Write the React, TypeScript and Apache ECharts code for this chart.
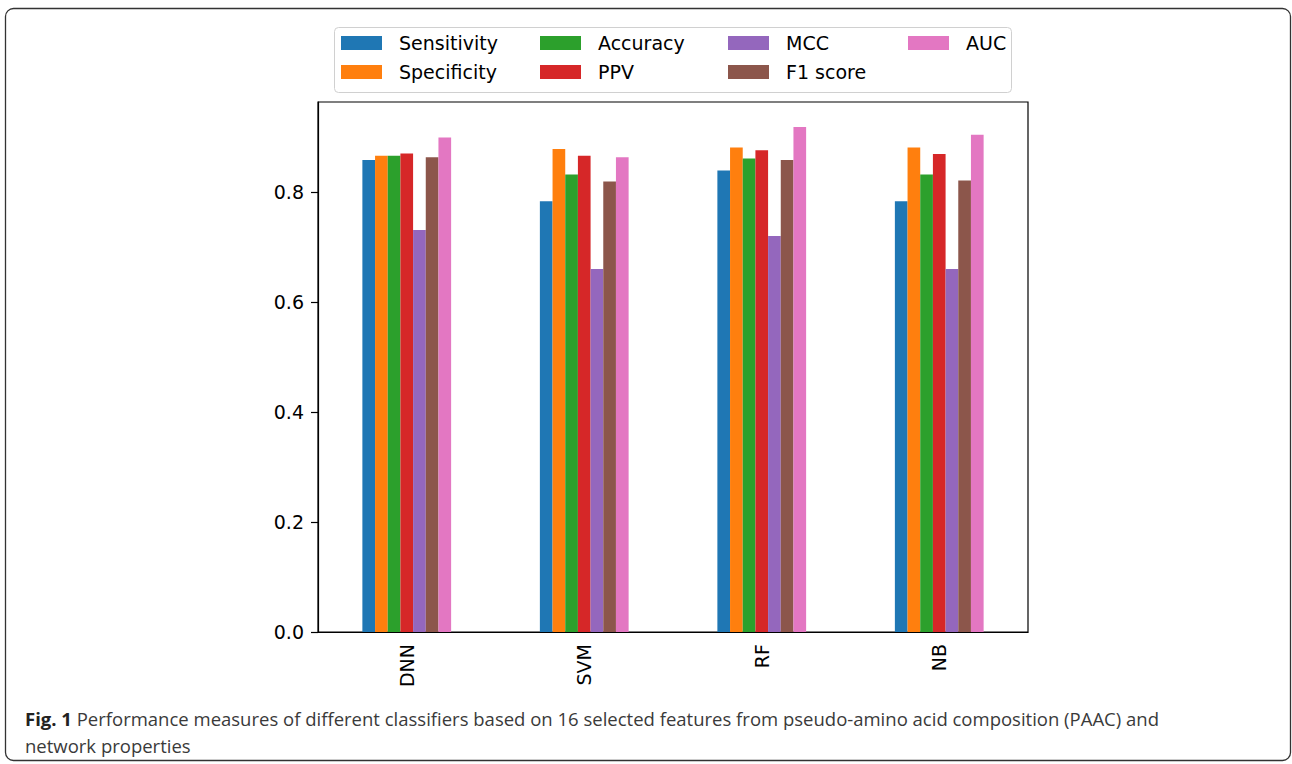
import React, { useEffect, useRef } from "react";
import * as echarts from "echarts";

const categories = ["DNN", "SVM", "RF", "NB"];
const seriesNames = ["Sensitivity", "Specificity", "Accuracy", "PPV", "MCC", "F1 score", "AUC"];
const sensitivity = [0.858, 0.783, 0.839, 0.783];
const specificity = [0.866, 0.878, 0.881, 0.881];
const accuracy = [0.866, 0.832, 0.861, 0.832];
const ppv = [0.870, 0.866, 0.876, 0.869];
const mcc = [0.731, 0.660, 0.720, 0.660];
const f1score = [0.863, 0.819, 0.858, 0.821];
const auc = [0.899, 0.863, 0.918, 0.904];
const yTicks = [0, 0.2, 0.4, 0.6, 0.8];
const colors = ["#1f77b4", "#ff7f0e", "#2ca02c", "#d62728", "#9467bd", "#8c564b", "#e377c2"];
const captionBold = "Fig. 1";
const captionLine1 =
  " Performance measures of different classifiers based on 16 selected features from pseudo-amino acid composition (PAAC) and";
const captionLine2 = "network properties";

export default function App() {
  const ref = useRef<HTMLDivElement>(null);
  useEffect(() => {
    if (!ref.current) return;
    const chart = echarts.init(ref.current, undefined, { renderer: "svg" });
    const values = [sensitivity, specificity, accuracy, ppv, mcc, f1score, auc];
    const legendFont = { fontSize: 19, color: "#000", fontFamily: "DejaVu Sans", lineHeight: 22, padding: [0, 0, 0, 12] };
    const legendCols = [
      { data: ["Sensitivity", "Specificity"], left: 341 },
      { data: ["Accuracy", "PPV"], left: 540 },
      { data: ["MCC", "F1 score"], left: 728 },
      { data: ["AUC"], left: 908 },
    ];
    chart.setOption({
      animation: false,
      backgroundColor: "#fff",
      color: colors,
      grid: {
        left: 318,
        right: 264,
        top: 102,
        bottom: 132,
        show: true,
        borderColor: "#000",
        borderWidth: 1.2,
        backgroundColor: "transparent",
      },
      legend: legendCols.map((c) => ({
        data: c.data,
        orient: "vertical",
        left: c.left,
        top: 32,
        itemWidth: 41,
        itemHeight: 14,
        itemGap: 7,
        padding: 0,
        icon: "rect",
        selectedMode: false,
        textStyle: legendFont,
      })),
      xAxis: {
        type: "category",
        data: categories,
        axisLine: { lineStyle: { color: "#000", width: 1.2 } },
        axisTick: { alignWithLabel: true, length: 7, lineStyle: { color: "#000", width: 1.2 } },
        axisLabel: { rotate: 90, fontSize: 19, color: "#000", fontFamily: "DejaVu Sans", margin: 12 },
      },
      yAxis: {
        type: "value",
        min: 0,
        max: 0.9636,
        interval: 0.2,
        splitLine: { show: false },
        axisLine: { show: true, lineStyle: { color: "#000", width: 1.2 } },
        axisTick: { show: true, length: 7, customValues: yTicks, lineStyle: { color: "#000", width: 1.2 } },
        axisLabel: {
          customValues: yTicks,
          fontSize: 19,
          color: "#000",
          fontFamily: "DejaVu Sans",
          margin: 14,
          formatter: (v: number) => v.toFixed(1),
        },
      },
      series: seriesNames.map((name, i) => ({
        name,
        type: "bar",
        data: values[i],
        barGap: "0%",
        barCategoryGap: "50%",
        itemStyle: { color: colors[i] },
      })),
      graphic: [
        {
          type: "rect",
          shape: { x: 5.5, y: 8.5, width: 1285, height: 752, r: 8 },
          style: { fill: "none", stroke: "#333", lineWidth: 1.3 },
          silent: true,
        },
        {
          type: "rect",
          shape: { x: 334.5, y: 27.5, width: 677, height: 65, r: 4 },
          style: { fill: "rgba(255,255,255,0.8)", stroke: "#d0d0d0", lineWidth: 1 },
          silent: true,
          z: -1,
        },
        {
          type: "text",
          x: 25,
          y: 705,
          style: {
            text: "{b|" + captionBold + "}{n|" + captionLine1 + "}\n{n|" + captionLine2 + "}",
            rich: {
              b: { fontWeight: "bold", fontSize: 18.5, fontFamily: "Open Sans", fill: "#222", lineHeight: 27 },
              n: { fontSize: 18.5, fontFamily: "Open Sans", fill: "#3a3a3a", lineHeight: 27 },
            },
          },
          silent: true,
        },
      ],
    });
    return () => chart.dispose();
  }, []);
  return <div ref={ref} style={{ position: "absolute", left: 0, top: 0, width: 1292, height: 764 }} />;
}
